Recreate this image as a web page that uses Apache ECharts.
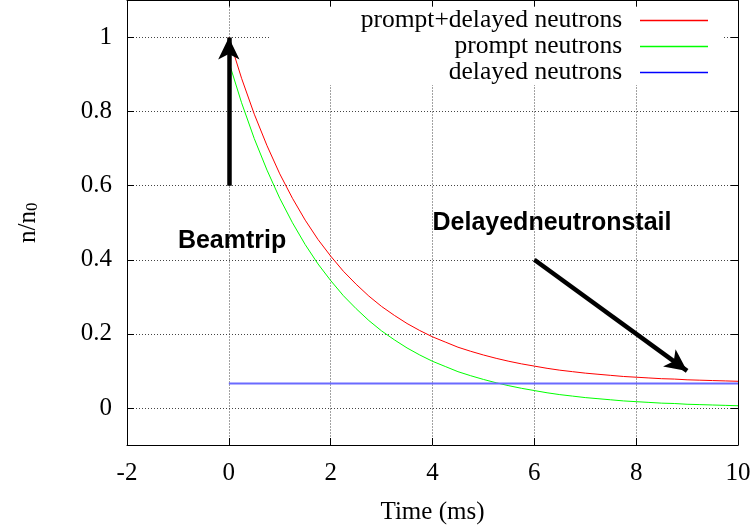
<!DOCTYPE html>
<html>
<head>
<meta charset="utf-8">
<script src="https://cdn.jsdelivr.net/npm/echarts@6/dist/echarts.min.js"></script>
<style>
  html, body { margin: 0; padding: 0; background: #fff; }
  #chart { width: 756px; height: 530px; }
</style>
</head>
<body>
<div id="chart"></div>
<script>
// Neutron population after a beam trip, normalised to n0, time in ms
const time = [
  0, 0.25, 0.5, 0.75, 1, 1.25, 1.5, 1.75, 2, 2.25, 2.5, 2.75, 3, 3.25, 3.5, 3.75,
  4, 4.25, 4.5, 4.75, 5, 5.25, 5.5, 5.75, 6, 6.25, 6.5, 6.75, 7, 7.25, 7.5, 7.75,
  8, 8.25, 8.5, 8.75, 9, 9.25, 9.5, 9.75, 10
];
const promptDelayed = [
  1.000, 0.890, 0.793, 0.708, 0.632, 0.566, 0.507, 0.455, 0.410, 0.369, 0.334, 0.302,
  0.274, 0.250, 0.228, 0.209, 0.192, 0.178, 0.164, 0.153, 0.143, 0.134, 0.126, 0.119,
  0.113, 0.107, 0.102, 0.098, 0.094, 0.091, 0.088, 0.085, 0.083, 0.081, 0.079, 0.078,
  0.076, 0.075, 0.074, 0.073, 0.072
];
const prompt = [
  0.934, 0.824, 0.727, 0.642, 0.566, 0.500, 0.441, 0.389, 0.344, 0.303, 0.268, 0.236,
  0.208, 0.184, 0.162, 0.143, 0.126, 0.112, 0.098, 0.087, 0.077, 0.068, 0.060, 0.053,
  0.047, 0.041, 0.036, 0.032, 0.028, 0.025, 0.022, 0.019, 0.017, 0.015, 0.013, 0.012,
  0.010, 0.009, 0.008, 0.007, 0.006
];
const delayedTime = [0, 10];
const delayed = [0.066, 0.066];

const seriesNames = ['prompt+delayed neutrons', 'prompt neutrons', 'delayed neutrons'];
const yTicks = [0, 0.2, 0.4, 0.6, 0.8, 1];

// Annotations in data coordinates
const noteTexts = ['Beamtrip', 'Delayedneutronstail'];
const noteX = [-1, 4];
const noteY = [0.45, 0.5];
const arrowFrom = [[0, 0.6], [6, 0.4]];
const arrowTo = [[0, 1], [9, 0.1]];

const SERIF = '"Liberation Serif", "Times New Roman", serif';
const SANS = '"Liberation Sans", Arial, sans-serif';

const pairs = (xs, ys) => xs.map((x, i) => [x, ys[i]]);

const chart = echarts.init(document.getElementById('chart'), null, { renderer: 'canvas' });

const dotted = { color: '#444', width: 1, type: [1, 2] };
const frame = { show: true, onZero: false, lineStyle: { color: '#000', width: 1 } };

chart.setOption({
  animation: false,
  backgroundColor: '#fff',
  grid: { left: 127, right: 18, top: 0.5, bottom: 84, containLabel: false },
  legend: {
    data: [
      { name: seriesNames[0] },
      { name: seriesNames[1] },
      { name: seriesNames[2], itemStyle: { color: '#0000ff' } }
    ],
    orient: 'vertical',
    align: 'right',
    right: 48,
    top: 7.5,
    padding: 0,
    itemGap: 0,
    itemWidth: 68,
    itemHeight: 1.4,
    icon: 'rect',
    z: 10,
    selectedMode: false,
    formatter: name => name + '  ',
    textStyle: { fontFamily: SERIF, fontSize: 25.5, color: '#000', lineHeight: 25.5 }
  },
  graphic: [{
    type: 'rect',
    silent: true,
    z: 1,
    shape: { x: 270, y: 7, width: 453, height: 78 },
    style: { fill: '#fff' }
  }],
  xAxis: [{
    type: 'value',
    min: -2, max: 10, interval: 2,
    name: 'Time (ms)',
    nameLocation: 'middle',
    nameGap: 55,
    nameTextStyle: { fontFamily: SERIF, fontSize: 25, color: '#000' },
    axisLine: frame,
    axisTick: { show: true, inside: true, length: 7, lineStyle: { color: '#000' } },
    axisLabel: { fontFamily: SERIF, fontSize: 25, color: '#000', margin: 16 },
    splitLine: { show: true, lineStyle: dotted }
  }, {
    type: 'value',
    position: 'top',
    min: -2, max: 10, interval: 2,
    axisLine: frame,
    axisTick: { show: true, inside: true, length: 6, lineStyle: { color: '#000' } },
    axisLabel: { show: false },
    splitLine: { show: false }
  }],
  yAxis: [{
    type: 'value',
    min: -0.1, max: 1.1,
    name: '{n|n/n}{s|0}',
    nameLocation: 'middle',
    nameGap: 86,
    nameTextStyle: {
      fontFamily: SERIF, color: '#000',
      rich: {
        n: { fontFamily: SERIF, fontSize: 25, lineHeight: 25, verticalAlign: 'top', color: '#000' },
        s: { fontFamily: SERIF, fontSize: 17, lineHeight: 17, padding: [13, 0, 0, 0], verticalAlign: 'bottom', color: '#000' }
      }
    },
    axisLine: frame,
    axisTick: { show: true, inside: true, length: 7, customValues: yTicks, lineStyle: { color: '#000' } },
    axisLabel: {
      customValues: yTicks,
      fontFamily: SERIF, fontSize: 25, color: '#000', margin: 15,
      formatter: v => String(+v.toFixed(1))
    },
    splitLine: { show: true, lineStyle: dotted }
  }, {
    type: 'value',
    position: 'right',
    min: -0.1, max: 1.1,
    axisLine: frame,
    axisTick: { show: true, inside: true, length: 7, customValues: yTicks, lineStyle: { color: '#000' } },
    axisLabel: { show: false, customValues: yTicks },
    splitLine: { show: false }
  }],
  series: [{
    name: seriesNames[0],
    type: 'line',
    data: pairs(time, promptDelayed),
    symbol: 'none',
    color: '#ff0000',
    lineStyle: { color: '#ff0000', width: 1 },
    z: 3
  }, {
    name: seriesNames[1],
    type: 'line',
    data: pairs(time, prompt),
    symbol: 'none',
    color: '#00ff00',
    lineStyle: { color: '#00ff00', width: 1 },
    z: 3
  }, {
    name: seriesNames[2],
    type: 'line',
    data: pairs(delayedTime, delayed),
    symbol: 'none',
    color: '#0000ff',
    lineStyle: { color: '#6a6aff', width: 2 },
    z: 3
  }, {
    name: 'notes',
    type: 'scatter',
    symbolSize: 0,
    silent: true,
    z: 5,
    itemStyle: { opacity: 1, color: '#000' },
    data: noteTexts.map((t, i) => ({ value: [noteX[i], noteY[i]], name: t })),
    label: {
      show: true,
      position: 'right',
      distance: 0,
      opacity: 1,
      formatter: p => p.name,
      fontFamily: SANS, fontWeight: 'bold', fontSize: 25, color: '#000',
      verticalAlign: 'middle'
    },
    markLine: {
      silent: true,
      symbol: ['none', 'arrow'],
      symbolSize: [16, 22],
      label: { show: false },
      emphasis: { disabled: true },
      lineStyle: { color: '#000', width: 4.5, type: 'solid', opacity: 1 },
      data: arrowFrom.map((a, i) => [{ coord: a }, { coord: arrowTo[i] }])
    }
  }]
});
</script>
</body>
</html>
